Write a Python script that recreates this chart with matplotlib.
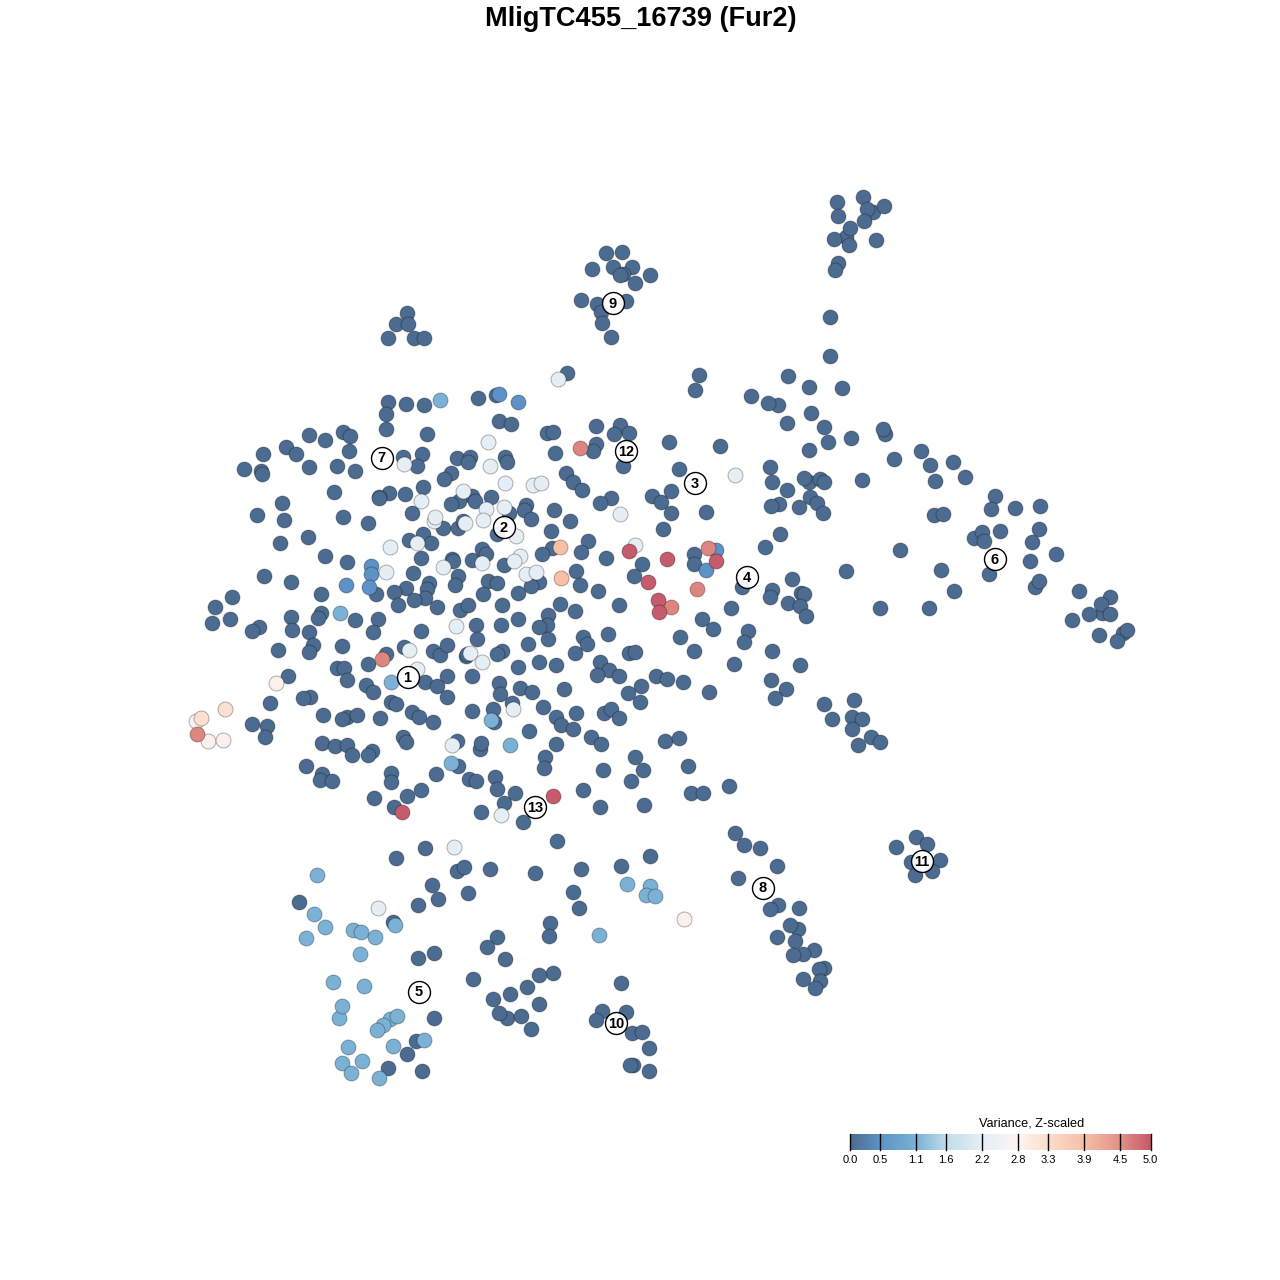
import matplotlib
matplotlib.use('Agg')
import matplotlib.pyplot as plt
from matplotlib.colors import LinearSegmentedColormap, Normalize
from matplotlib.cm import ScalarMappable

plt.rcParams['font.family'] = ['Liberation Sans', 'DejaVu Sans']

title = 'MligTC455_16739 (Fur2)'
legendTitle = 'Variance, Z-scaled'
legendTicks = [0.0, 0.5, 1.1, 1.6, 2.2, 2.8, 3.3, 3.9, 4.5, 5.0]
legendColors = ['#4B6B90', '#5C93C6', '#7AB1D5', '#C0DDEA', '#E5EEF5',
                '#FBF5F3', '#FCDCCB', '#F6BFA6', '#E39087', '#C65B6B']

# points, grouped by variance
zeroPts = [
    (388,402),(406,404),(424,405),(386,414),(386,429),(427,434),(309,435),(325,440),(343,432),(350,436),
    (263,454),(286,447),(296,454),(349,451),(403,457),(422,454),(417,466),(244,469),(261,471),(262,474),
    (309,467),(337,466),(355,471),(457,458),(470,457),(468,462),(451,473),(444,479),(423,487),(334,492),
    (389,493),(379,497),(379,498),(405,494),(282,503),(257,515),(284,520),(343,517),(368,523),(412,513),
    (280,543),(308,537),(325,556),(347,562),(409,540),(423,534),(431,543),(421,558),(452,559),(453,561),
    (472,560),(264,576),(291,582),(413,573),(458,576),(455,585),(429,583),(427,589),(425,598),(406,588),
    (394,592),(376,594),(321,594),(398,605),(414,600),(437,607),(460,610),(468,605),(232,597),(215,607),
    (230,619),(212,623),(259,627),(252,631),(291,617),(292,630),(321,613),(318,618),(309,632),(355,620),
    (378,619),(373,632),(421,631),(476,625),(477,639),(278,650),(342,646),(313,645),(309,652),(386,654),
    (368,664),(404,647),(433,651),(440,655),(447,645),(466,656),(472,676),(447,676),(425,682),(437,686),
    (447,697),(472,711),(337,668),(344,668),(347,680),(288,676),(366,685),(373,692),(270,703),(310,697),
    (303,698),(391,702),(396,704),(412,712),(419,717),(433,722),(323,715),(347,717),(342,719),(357,715),
    (380,718),(252,724),(267,726),(265,737),(322,743),(335,746),(347,745),(352,755),(372,751),(368,755),
    (403,737),(406,742),(457,741),(306,766),(322,774),(320,780),(332,781),(391,773),
    (391,782),(436,774),(458,766),(469,779),(476,781),(374,798),(407,796),(421,790),(394,807),
    (425,848),(396,858),(567,373),(699,375),(695,390),(478,398),(496,395),(499,421),(511,424),(547,433),
    (553,432),(596,426),(620,425),(629,433),(614,434),(596,444),(593,451),(555,453),(669,442),(720,446),
    (623,466),(679,469),(505,457),(507,462),(566,473),(573,482),(582,490),(671,491),(652,496),(661,502),
    (611,498),(600,503),(671,513),(706,512),(663,529),(491,497),(472,496),(475,501),(459,501),(451,504),
    (526,505),(524,510),(531,519),(554,510),(570,521),(551,531),(443,528),(458,528),(463,521),(509,513),
    (497,534),(588,541),(581,552),(552,548),(542,554),(606,558),(642,564),(634,576),(694,554),(694,564),
    (576,571),(580,585),(598,591),(482,549),(486,554),(504,565),(488,581),(497,583),(483,594),(518,593),
    (539,582),(531,586),(560,604),(575,611),(619,605),(731,608),(702,619),(713,629),(502,605),(548,615),
    (547,625),(539,627),(518,619),(501,625),(548,639),(528,644),(583,637),(587,644),(608,634),
    (575,653),(629,653),(635,652),(680,637),(694,651),(502,651),(497,654),(467,654),(539,662),(556,665),
    (518,667),(600,662),(609,670),(597,675),(619,676),(656,676),(667,679),(683,682),(709,692),(641,686),
    (628,693),(640,702),(564,689),(520,688),(532,692),(499,683),(500,694),(512,703),(493,709),(543,707),
    (556,717),(561,725),(576,713),(573,729),(529,731),(604,713),(611,709),(619,718),(494,722),(591,737),
    (601,744),(665,741),(679,738),(556,744),(480,749),(481,743),(545,757),(544,768),(635,757),(643,770),
    (603,770),(688,766),(631,781),(495,777),(497,789),(515,793),(504,803),(481,812),(583,790),(600,807),
    (644,805),(691,793),(703,793),(729,786),(523,822),(557,841),(650,856),(735,833),(744,845),
    (863,197),(837,202),(873,212),(884,206),(867,209),(838,216),(864,221),(846,237),(850,228),(834,239),
    (849,245),(876,240),(838,263),(835,270),(830,317),(830,356),(606,253),(622,252),(592,269),(613,267),
    (632,267),(623,274),(620,275),(650,275),(635,283),(581,300),(597,304),(626,301),(601,312),(602,323),
    (611,337),(407,313),(396,324),(408,324),(388,338),(414,338),(424,338),(788,376),(809,387),(842,388),
    (751,396),(778,405),(768,403),(811,413),(787,423),(824,427),(828,442),(851,438),(809,450),(885,434),
    (883,429),(894,459),(921,451),(930,465),(953,462),(935,481),(965,477),(770,467),(772,482),(809,482),
    (804,478),(820,479),(824,482),(787,490),(810,497),(862,480),(779,504),(771,506),(799,507),(817,503),
    (823,513),(780,534),(765,547),(900,550),(846,571),(880,608),(929,608),(941,570),(954,591),(995,496),
    (991,509),(1015,508),(1040,506),(934,515),(943,514),(1039,529),(974,538),(982,532),(1000,531),(984,541),
    (1032,542),(1056,554),(1030,561),(989,574),(1035,587),(1039,581),(1079,591),(1110,597),(1102,613),
    (1101,604),(1089,614),(1110,614),(1072,620),(1099,635),(1123,633),(1127,630),(1117,641),(742,587),
    (772,590),(770,597),(792,579),(801,593),(804,594),(788,603),(800,606),(806,616),(748,631),(744,642),
    (772,651),(800,665),(734,664),(771,680),(786,689),(775,698),(824,704),(854,700),(832,719),(852,717),
    (862,719),(852,729),(871,737),(880,742),(858,745),(916,837),(927,844),(896,847),(911,862),(940,860),
    (915,875),(932,871),(760,848),(777,866),(738,878),(778,905),(770,909),(799,908),(798,929),(790,925),
    (777,937),(795,941),(814,950),(803,954),(793,955),(824,968),(819,969),(820,981),(803,979),(815,988),
    (457,871),(464,867),(490,869),(535,873),(581,869),(621,866),(432,885),(573,892),(418,905),(438,899),
    (468,893),(579,908),(299,902),(393,922),(550,923),(549,936),(497,937),(487,947),(434,953),(418,958),
    (505,959),(553,973),(539,975),(473,979),(527,987),(621,983),(493,999),(510,994),(539,1004),(507,1018),
    (499,1013),(521,1016),(531,1029),(434,1018),(602,1011),(626,1012),(596,1020),(632,1033),(642,1032),
    (649,1048),(416,1041),(407,1054),(388,1068),(422,1071),(633,1065),(630,1065),(649,1071),
]
midBluePts = [(499,394),(518,402),(371,566),(371,574),(346,585),(369,587),(716,550),(706,570)]
lightBluePts = [
    (440,400),(340,613),(391,682),(491,720),(510,745),(451,763),(317,875),(314,914),(306,938),(325,927),
    (353,930),(361,932),(375,937),(395,925),(360,954),(333,982),(364,986),(339,1018),(342,1006),(390,1019),
    (397,1016),(383,1025),(377,1030),(393,1046),(424,1040),(348,1047),(342,1063),(362,1061),(351,1073),
    (379,1078),(627,884),(650,886),(646,895),(655,896),(599,935),
]
whitePts = [
    (558,379),(488,442),(490,466),(404,464),(421,501),(463,491),(505,483),(533,485),(541,483),(434,521),
    (435,517),(465,523),(504,507),(486,509),(483,520),(516,536),(390,547),(417,543),(386,572),(443,567),
    (620,514),(635,545),(520,556),(514,561),(482,563),(526,574),(536,572),(456,626),(409,650),(417,669),
    (470,653),(482,662),(513,709),(452,745),(501,815),(454,847),(378,908),(735,475),
]
warmWhitePts = [(276,683),(196,721),(208,741),(223,740),(684,919)]
peachPts = [(201,718),(225,709)]
orangePts = [(560,547),(561,578)]
salmonPts = [(580,448),(382,659),(708,548),(697,589),(671,607),(197,734)]
redPts = [(553,796),(402,812),(629,551),(667,559),(716,561),(658,600),(659,612),(648,582)]

pointGroups = [(zeroPts, 0.0), (midBluePts, 0.5), (lightBluePts, 1.1), (whitePts, 2.2),
               (warmWhitePts, 2.9), (peachPts, 3.2), (orangePts, 3.9), (salmonPts, 4.6), (redPts, 5.0)]

clusterIds = ['1', '2', '3', '4', '5', '6', '7', '8', '9', '10', '11', '12', '13']
clusterX = [407, 503.5, 694.5, 746.5, 418.5, 994.5, 381, 762.5, 612.5, 615.5, 921.5, 625.5, 534.5]
clusterY = [676.5, 526.5, 482.5, 576.5, 991.5, 558.5, 457.5, 887.5, 302.5, 1022.5, 860.5, 450.5, 806.5]

cmap = LinearSegmentedColormap.from_list('variance', [(v / 5, c) for v, c in zip(legendTicks, legendColors)])
norm = Normalize(0, 5)

fig = plt.figure(figsize=(12.8, 12.8), dpi=100)
ax = fig.add_axes([0, 0, 1, 1])
ax.set_xlim(-0.5, 1279.5)
ax.set_ylim(1279.5, -0.5)
ax.axis('off')

for pts, val in pointGroups:
    xs = [p[0] for p in pts]
    ys = [p[1] for p in pts]
    ax.scatter(xs, ys, c=[val] * len(pts), cmap=cmap, norm=norm, s=116,
               edgecolors=(0, 0, 0, 0.3), linewidths=0.7, zorder=2)

ax.scatter(clusterX, clusterY, s=250, c=[(1, 1, 1, 0.92)], edgecolors='black', linewidths=1.0, zorder=3)
for cid, cx, cy in zip(clusterIds, clusterX, clusterY):
    ax.text(cx, cy + 0.5, cid, ha='center', va='center', fontsize=10.5, fontweight='bold', zorder=4)

ax.text(640.5, 19, title, ha='center', va='center', fontsize=19.6, fontweight='bold')

# legend bar
cax = fig.add_axes([850.0 / 1280, 1 - 1149.5 / 1280, 300.5 / 1280, 15.5 / 1280])
cb = fig.colorbar(ScalarMappable(norm=norm, cmap=cmap), cax=cax, orientation='horizontal', ticks=legendTicks)
cb.outline.set_visible(False)
cb.ax.tick_params(length=0, pad=4, labelsize=8)
cb.ax.set_xticklabels(['%.1f' % t for t in legendTicks])
for t in legendTicks:
    cax.axvline(t, color='black', lw=1.0, clip_on=False)
ax.text(1031, 1122.5, legendTitle, ha='center', va='center', fontsize=9.2)

fig.savefig('out.png', dpi=100)
